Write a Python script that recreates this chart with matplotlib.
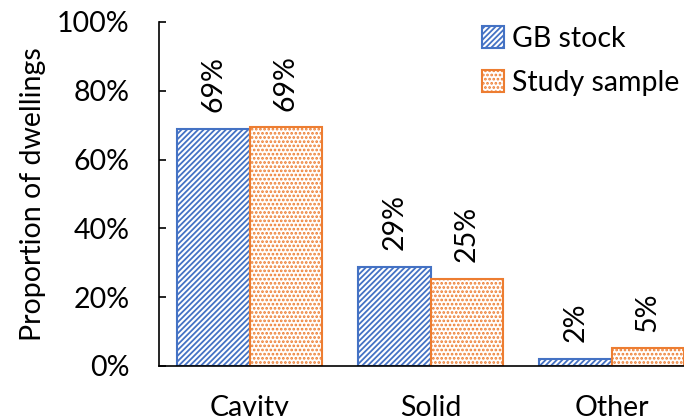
import matplotlib
matplotlib.use("Agg")
import matplotlib.pyplot as plt
import numpy as np

categories = ["Cavity", "Solid", "Other"]
gb_stock = [69.0, 28.8, 2.1]
study_sample = [69.4, 25.3, 5.2]
gb_labels = ["69%", "29%", "2%"]
study_labels = ["69%", "25%", "5%"]
yticks = [0, 20, 40, 60, 80, 100]

plt.rcParams['font.family'] = ['Lato', 'DejaVu Sans']
plt.rcParams['hatch.linewidth'] = 1.3

FS = 20.5
fig = plt.figure(figsize=(6.84, 4.16), dpi=100)
ax = fig.add_axes([159/684, 1-366/416, 543/684, (366-22)/416])

blue = "#4472C4"
orange = "#ED7D31"
x = np.arange(len(categories))
w = 0.4
ax.bar(x - w/2, gb_stock, w, facecolor="white", edgecolor=blue, hatch="//////", linewidth=1.5, label="GB stock")
ax.bar(x + w/2, study_sample, w, facecolor="white", edgecolor=orange, hatch="....", linewidth=1.5, label="Study sample")

for xi, v, t in zip(x - w/2, gb_stock, gb_labels):
    ax.text(xi, v + 4.8, t, rotation=90, ha="center", va="bottom", fontsize=FS)
for xi, v, t in zip(x + w/2, study_sample, study_labels):
    ax.text(xi, v + 4.8, t, rotation=90, ha="center", va="bottom", fontsize=FS)

ax.set_xlim(-0.5, 2.5)
ax.set_ylim(0, 100)
ax.set_yticks(yticks)
ax.set_yticklabels([f"{t}%" for t in yticks], fontsize=FS)
ax.set_xticks(x)
ax.set_xticklabels(categories, fontsize=FS)
ax.tick_params(axis="x", length=0, pad=21)
ax.tick_params(axis="y", length=5, width=1.2, direction="in", pad=21)
ax.spines["top"].set_visible(False)
ax.spines["right"].set_visible(False)
ax.spines["left"].set_linewidth(1.2)
ax.spines["bottom"].set_linewidth(1.2)
ax.set_ylabel("Proportion of dwellings", fontsize=FS, labelpad=8)

ax.legend(loc="upper left", bbox_to_anchor=(476/684, 1 - 20/416), bbox_transform=fig.transFigure,
          frameon=False, fontsize=FS, handlelength=0.8, handleheight=0.8,
          handletextpad=0.25, labelspacing=0.65, borderaxespad=0, borderpad=0.2)

fig.savefig("out.png", dpi=100)
